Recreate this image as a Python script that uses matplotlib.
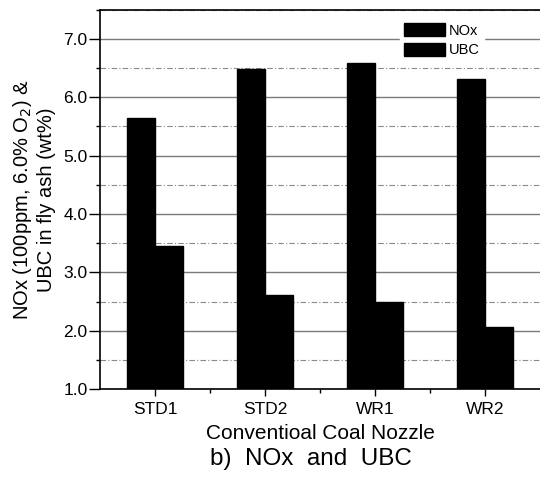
import numpy as np
import matplotlib.pyplot as plt
from matplotlib.ticker import MultipleLocator, FixedLocator

plt.rcParams['font.family'] = ['Liberation Sans', 'DejaVu Sans']

nozzles = ['STD1', 'STD2', 'WR1', 'WR2']
nox = [5.65, 6.48, 6.58, 6.31]
ubc = [3.45, 2.62, 2.50, 2.07]

x = np.arange(len(nozzles))
w = 0.255

fig = plt.figure(figsize=(5.4, 4.79), dpi=100)
ax = fig.add_axes([100/540, 1 - 389.3/479, 440/540, (389.3 - 9.5)/479])

ax.bar(x - w/2, nox, w, bottom=0, color='black', edgecolor='black', label='NOx', zorder=3)
ax.bar(x + w/2, ubc, w, bottom=0, color='black', edgecolor='black', label='UBC', zorder=3)

ax.set_xlim(-0.5, 3.5)
ax.set_ylim(1.0, 7.5)
ax.set_xticks(x)
ax.set_xticklabels(nozzles)
ax.xaxis.set_minor_locator(FixedLocator(x[:-1] + 0.5))
ax.yaxis.set_major_locator(MultipleLocator(1.0))
ax.yaxis.set_minor_locator(MultipleLocator(0.5))
ax.yaxis.set_major_formatter(plt.FormatStrFormatter('%.1f'))

ax.grid(True, which='major', axis='y', color='#7a7a7a', lw=1.0, zorder=0)
ax.grid(True, which='minor', axis='y', color='#8a8a8a', lw=0.8,
        linestyle=(0, (5, 2, 1, 2)), zorder=0)

ax.tick_params(which='major', direction='out', width=1, labelsize=12.5)
ax.tick_params(axis='y', which='major', length=8, pad=1)
ax.tick_params(axis='x', which='major', length=5, pad=4)
ax.tick_params(which='minor', direction='out', length=3, width=1)
ax.spines['right'].set_visible(False)
for s in ['left', 'bottom', 'top']:
    ax.spines[s].set_linewidth(1.2)

ax.set_xlabel('Conventioal Coal Nozzle', fontsize=15, labelpad=5)
ax.set_ylabel('NOx (100ppm, 6.0% O$_2$) &\nUBC in fly ash (wt%)', fontsize=14.5,
              labelpad=5, linespacing=1.25)

leg = ax.legend(loc='upper left', bbox_to_anchor=(0.682, 0.976), frameon=True,
                fontsize=10.5, handlelength=2.8, handleheight=1.0, labelspacing=0.35,
                borderpad=0.3, borderaxespad=0, handletextpad=0.25)
leg.get_frame().set_edgecolor('white')
leg.get_frame().set_facecolor('white')
leg.get_frame().set_alpha(1.0)
leg.set_zorder(5)

fig.text(311/540, 1 - 459/479, 'b)  NOx  and  UBC', fontsize=17.5, ha='center', va='center')

fig.savefig('out.png', dpi=100)
